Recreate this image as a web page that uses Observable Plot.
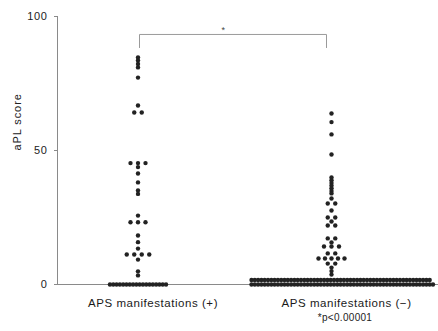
<!DOCTYPE html>
<html><head><meta charset="utf-8">
<script src="https://cdn.jsdelivr.net/npm/d3@7"></script>
<script src="https://cdn.jsdelivr.net/npm/@observablehq/plot@0.6"></script>
<style>
body{margin:0;background:#fff;}
#chart{width:438px;}
.caption{position:relative;height:19px;width:438px;font-family:"Liberation Sans",Arial,sans-serif;}
.caption span{position:absolute;left:345px;top:1px;transform:translateX(-50%);font-size:10px;line-height:10px;color:#222;letter-spacing:0.3px;white-space:nowrap;}
</style></head><body>
<div id="chart"></div>
<div class="caption"><span>*p&lt;0.00001</span></div>
<script>
// Categories
const groups = ["APS manifestations (+)", "APS manifestations (\u2212)"];
// aPL scores, APS manifestations (+)
const apsPos = [84.7, 83.6, 82.3, 81.0, 77.2, 66.8, 64.2, 64.2,
  45.3, 45.3, 45.3, 43.8, 41.4, 38.1, 35.1, 33.8,
  25.7, 23.2, 23.2, 23.2, 18.3, 15.8, 13.4, 11.2, 11.2, 11.2, 11.2, 9.3, 4.9, 3.4,
  0, 0, 0, 0, 0, 0, 0, 0, 0, 0, 0, 0, 0, 0, 0, 0, 0, 0];
// aPL scores, APS manifestations (-)
const apsNeg = [63.8, 60.6, 56.0, 48.5,
  39.9, 38.9, 37.9, 36.9, 35.9, 34.9, 34.0,
  32.1, 30.2, 30.2, 27.6, 25.0, 25.0, 23.5, 22.0, 22.0,
  17.2, 17.2, 15.7, 14.2, 14.2, 14.2,
  11.6, 11.6, 9.7, 9.7, 9.7, 9.7, 9.7, 7.8, 7.8, 6.3, 5.0, 3.7,
  1.7, 1.7, 1.7, 1.7, 1.7, 1.7, 1.7, 1.7, 1.7, 1.7, 1.7, 1.7, 1.7, 1.7, 1.7, 1.7, 1.7, 1.7, 1.7, 1.7,
  1.7, 1.7, 1.7, 1.7, 1.7, 1.7, 1.7, 1.7, 1.7, 1.7, 1.7, 1.7, 1.7, 1.7, 1.7, 1.7, 1.7, 1.7, 1.7, 1.7,
  1.7, 1.7, 1.7, 1.7, 1.7, 1.7, 1.7, 1.7, 1.7, 1.7, 1.7, 1.7, 1.7, 1.7, 1.7,
  0, 0, 0, 0, 0, 0, 0, 0, 0, 0, 0, 0, 0, 0, 0, 0, 0, 0, 0, 0,
  0, 0, 0, 0, 0, 0, 0, 0, 0, 0, 0, 0, 0, 0, 0, 0, 0, 0, 0, 0,
  0, 0, 0, 0, 0, 0, 0, 0, 0, 0, 0, 0, 0, 0, 0, 0];
// y ticks
const yTicks = [0, 50, 100];
// significance annotation
const sigLabel = "*";
const sigY = 93.3, sigDrop = 88.4;

// layout constants (pixels)
const W = 438, ML = 57;
const PX = 193.5;            // pixels between group centres
const firstCentre = 80.5;    // px from y axis to first group centre
const xDomain = [-firstCentre / PX, (W - ML - firstCentre) / PX];

// tie spreading: equal values spread horizontally around group centre
function layout(values, gi) {
  const counts = d3.rollup(values, v => v.length, v => v);
  const seen = new Map();
  return values.map(v => {
    const n = counts.get(v);
    const k = seen.get(v) ?? 0; seen.set(v, k + 1);
    const step = n > 10 ? 3.3 : (n > 4 ? 6.5 : 7.5);
    const left = -(n - 1) / 2 * step;
    let off = left + k * step;
    if (left < -80) off += -80 - left;
    return {group: groups[gi], value: v, x: gi + off / PX};
  });
}
const data = [...layout(apsPos, 0), ...layout(apsNeg, 1)];

const bracket = [
  {x: 0 + 1.5 / PX, y: sigDrop}, {x: 0 + 1.5 / PX, y: sigY},
  {x: 1 - 5 / PX, y: sigY}, {x: 1 - 5 / PX, y: sigDrop}
];

const chart = Plot.plot({
  width: W, height: 312,
  marginLeft: ML, marginRight: 0, marginTop: 16, marginBottom: 28,
  style: {fontFamily: '"Liberation Sans", Arial, sans-serif', background: "#fff", color: "#222"},
  x: {domain: xDomain},
  y: {domain: [0, 100]},
  marks: [
    Plot.ruleY([0], {stroke: "#8a8a8a", strokeWidth: 1}),
    Plot.ruleX([xDomain[0]], {y1: 0, y2: 100, stroke: "#8a8a8a", strokeWidth: 1}),
    Plot.axisY({ticks: yTicks, tickSize: 3, tickPadding: 7, fontSize: 11, stroke: "#8a8a8a", fill: "#222", label: null}),
    Plot.axisX({ticks: [0, 1], tickFormat: i => groups[i], tickSize: 0, tickPadding: 14, dx: 15, fontSize: 11.5, fill: "#1a1a1a", label: null}),
    Plot.text(["aPL score"], {text: d => d, frameAnchor: "left", dx: -40, rotate: -90, fontSize: 11, fill: "#222"}),
    Plot.line(bracket, {x: "x", y: "y", stroke: "#9a9a9a", strokeWidth: 1}),
    Plot.text([sigLabel], {text: d => d, x: 0.44, y: sigY, lineAnchor: "bottom", dy: -1, fontSize: 9, fill: "#444"}),
    Plot.dot(data, {x: "x", y: "value", r: 2.2, fill: "#222", stroke: "none"})
  ]
});
document.getElementById("chart").append(chart);
d3.select(chart).selectAll("text").each(function() {
  const t = this.textContent;
  if (t.startsWith("APS")) this.style.letterSpacing = "0.55px";
  else if (t === "aPL score") this.style.letterSpacing = "0.9px";
  else if (/^\d+$/.test(t)) this.style.letterSpacing = "0.6px";
});
</script>
</body></html>
